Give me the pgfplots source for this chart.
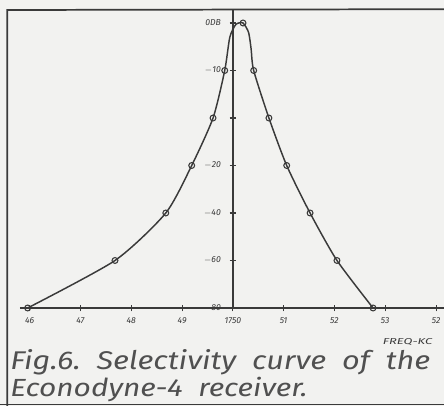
\documentclass[border=0pt]{standalone}
\usepackage{fontspec}
\setmainfont{Fira Sans}
\usepackage{graphicx}
\usepackage{pgfplots}
\pgfplotsset{compat=1.18}
\definecolor{bg}{HTML}{F2F2F0}
\definecolor{ink}{HTML}{3A3A3A}
\definecolor{ink2}{HTML}{505050}
\begin{document}
\begin{tikzpicture}
\useasboundingbox (0,0) rectangle (333pt,304.5pt);
\fill[bg] (0,0) rectangle (333pt,304.5pt);
\draw[ink, line width=1.3pt] (5.5pt,0) -- (5.5pt,297pt) -- (333pt,297.6pt);
\draw[ink, line width=1.1pt] (0,1.2pt) -- (333pt,1.2pt);
\begin{axis}[
  at={(15pt,73.5pt)}, anchor=south west,
  x=38.1pt, y=35.625pt,
  xmin=-4.19, xmax=4.15, ymin=0, ymax=6.27,
  axis lines*=middle,
  hide obscured x ticks=false, hide obscured y ticks=false,
  axis line style={ink, line width=1pt},
  tick style={ink, line width=0.8pt},
  tick align=center, major tick length=5pt,
  xtick={-4,-3,-2,-1,0,1,2,3,4},
  xticklabels={46,47,48,49,1750,51,52,53,52},
  ytick={0,1,2,3,4,5,6},
  yticklabels={$-$80,$-$60,$-$40,$-$20,,$-$10,0DB},
  ticklabel style={font=\fontsize{6.5}{7}\selectfont\itshape, text=ink},
  xticklabel style={yshift=-1pt},
  yticklabel style={xshift=-3pt},
]
\addplot[ink, line width=1.1pt, smooth, tension=0.4, no marks] coordinates {
  (-4.04,0) (-2.32,1) (-1.32,2) (-0.81,3) (-0.39,4) (-0.16,5)
  (-0.06,5.7) (0.06,5.97) (0.2,6.0) (0.31,5.8) (0.36,5.45) (0.41,5)
  (0.71,4) (1.06,3) (1.52,2) (2.05,1) (2.76,0)
};
\addplot[ink, line width=0.8pt, only marks, mark=o, mark size=2.2pt] coordinates {
  (-4.04,0) (-2.32,1) (-1.32,2) (-0.81,3) (-0.39,4) (-0.16,5)
  (0.2,6.0) (0.41,5) (0.71,4) (1.06,3) (1.52,2) (2.05,1) (2.76,0)
};
\end{axis}
\node[anchor=base west, inner sep=0, text=ink2] at (7.5pt,27pt) {\resizebox{315pt}{15pt}{\itshape Fig.6.~~Selectivity~~curve~~of~~the}};
\node[anchor=base west, inner sep=0, text=ink2] at (7.5pt,6.75pt) {\resizebox{223pt}{14.5pt}{\itshape Econodyne-4~~receiver.}};
\node[anchor=base west, inner sep=0, text=ink] at (287pt,45.75pt) {\resizebox{37pt}{4.5pt}{\itshape FREQ-KC}};
\end{tikzpicture}
\end{document}
